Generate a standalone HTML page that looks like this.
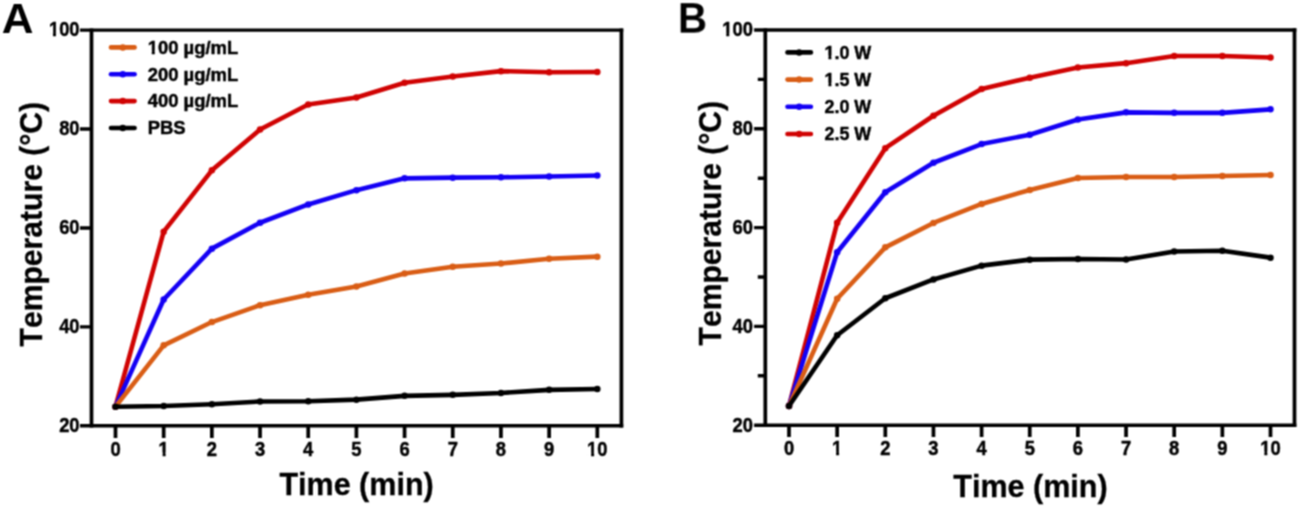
<!DOCTYPE html>
<html><head><meta charset="utf-8"><style>
html,body{margin:0;padding:0;background:#fff;}
body{width:1300px;height:507px;overflow:hidden;}
svg{display:block;will-change:transform;}
text{font-family:"Liberation Sans",sans-serif;font-weight:bold;fill:#000;font-kerning:none;}
.t{font-size:19.4px;stroke:#000;stroke-width:0.45px;}
.lg{font-size:18.1px;stroke:#000;stroke-width:0.45px;}
.ti{font-size:31.5px;stroke:#000;stroke-width:0.3px;}
.L{font-size:42px;}
</style></head><body>
<svg width="1300" height="507" viewBox="0 0 1300 507">
<defs><filter id="soft" x="0" y="0" width="1300" height="507" filterUnits="userSpaceOnUse" color-interpolation-filters="sRGB"><feConvolveMatrix order="3" kernelMatrix="0.0625 0.125 0.0625 0.125 0.25 0.125 0.0625 0.125 0.0625" edgeMode="duplicate"/></filter></defs>
<g filter="url(#soft)">
<rect width="1300" height="507" fill="#fff"/>
<path d="M80.0,30.15 H623.25 M80.0,425.8 H623.25" stroke="#000" stroke-width="3.4" fill="none"/>
<path d="M91.5,28.45 V427.5 M621.4,28.45 V427.5" stroke="#000" stroke-width="3.7" fill="none"/>
<path d="M80.0,326.89 H91.5 M80.0,227.97 H91.5 M80.0,129.06 H91.5 " stroke="#000" stroke-width="3.4" fill="none"/>
<path d="M115.50,425.8 V438.1 M163.68,425.8 V438.1 M211.86,425.8 V438.1 M260.04,425.8 V438.1 M308.22,425.8 V438.1 M356.40,425.8 V438.1 M404.58,425.8 V438.1 M452.76,425.8 V438.1 M500.94,425.8 V438.1 M549.12,425.8 V438.1 M597.30,425.8 V438.1 " stroke="#000" stroke-width="3.7" fill="none"/>
<g transform="translate(79.60,432.10) scale(0.948,1.0)"><text x="-21.58" y="0" class="t">20</text></g>
<g transform="translate(79.60,333.19) scale(0.948,1.0)"><text x="-21.58" y="0" class="t">40</text></g>
<g transform="translate(79.60,234.28) scale(0.948,1.0)"><text x="-21.58" y="0" class="t">60</text></g>
<g transform="translate(79.60,135.36) scale(0.948,1.0)"><text x="-21.58" y="0" class="t">80</text></g>
<g transform="translate(79.60,36.45) scale(0.948,1.0)"><text x="-32.37" y="0" class="t">100</text><rect x="-32.18" y="-3.28" width="4.09" height="4.58" fill="#fff"/><rect x="-24.93" y="-3.28" width="4.04" height="4.58" fill="#fff"/></g>
<g transform="translate(115.50,455.80) scale(0.948,1.0)"><text x="-5.39" y="0" class="t">0</text></g>
<g transform="translate(163.68,455.80) scale(0.948,1.0)"><text x="-5.39" y="0" class="t">1</text><rect x="-5.21" y="-3.28" width="4.09" height="4.58" fill="#fff"/><rect x="2.05" y="-3.28" width="4.04" height="4.58" fill="#fff"/></g>
<g transform="translate(211.86,455.80) scale(0.948,1.0)"><text x="-5.39" y="0" class="t">2</text></g>
<g transform="translate(260.04,455.80) scale(0.948,1.0)"><text x="-5.39" y="0" class="t">3</text></g>
<g transform="translate(308.22,455.80) scale(0.948,1.0)"><text x="-5.39" y="0" class="t">4</text></g>
<g transform="translate(356.40,455.80) scale(0.948,1.0)"><text x="-5.39" y="0" class="t">5</text></g>
<g transform="translate(404.58,455.80) scale(0.948,1.0)"><text x="-5.39" y="0" class="t">6</text></g>
<g transform="translate(452.76,455.80) scale(0.948,1.0)"><text x="-5.39" y="0" class="t">7</text></g>
<g transform="translate(500.94,455.80) scale(0.948,1.0)"><text x="-5.39" y="0" class="t">8</text></g>
<g transform="translate(549.12,455.80) scale(0.948,1.0)"><text x="-5.39" y="0" class="t">9</text></g>
<g transform="translate(597.30,455.80) scale(0.948,1.0)"><text x="-10.79" y="0" class="t">10</text><rect x="-10.60" y="-3.28" width="4.09" height="4.58" fill="#fff"/><rect x="-3.35" y="-3.28" width="4.04" height="4.58" fill="#fff"/></g>
<g transform="translate(356.55,495.30) scale(0.969,1.015)"><text x="-79.63" y="0" class="ti">Time (min)</text></g>
<g transform="translate(42.30,224.10) rotate(-90) scale(0.9565,1.015)"><text x="-127.95" y="0" class="ti">Temperature (°C)</text></g>
<text transform="translate(1.8,33.45) scale(1,0.957)" class="L" style="font-size:44px">A</text>
<polyline points="115.50,406.65 163.68,231.65 211.86,170.35 260.04,129.55 308.22,104.55 356.40,97.50 404.58,82.80 452.76,76.45 500.94,71.15 549.12,72.30 597.30,71.95" stroke="#D00303" stroke-width="4.6" fill="none" stroke-linejoin="round" stroke-linecap="round"/>
<circle cx="115.50" cy="406.65" r="3.25" fill="#D00303"/>
<circle cx="163.68" cy="231.65" r="3.25" fill="#D00303"/>
<circle cx="211.86" cy="170.35" r="3.25" fill="#D00303"/>
<circle cx="260.04" cy="129.55" r="3.25" fill="#D00303"/>
<circle cx="308.22" cy="104.55" r="3.25" fill="#D00303"/>
<circle cx="356.40" cy="97.50" r="3.25" fill="#D00303"/>
<circle cx="404.58" cy="82.80" r="3.25" fill="#D00303"/>
<circle cx="452.76" cy="76.45" r="3.25" fill="#D00303"/>
<circle cx="500.94" cy="71.15" r="3.25" fill="#D00303"/>
<circle cx="549.12" cy="72.30" r="3.25" fill="#D00303"/>
<circle cx="597.30" cy="71.95" r="3.25" fill="#D00303"/>
<polyline points="115.50,406.65 163.68,299.50 211.86,248.65 260.04,222.75 308.22,204.45 356.40,190.15 404.58,178.35 452.76,177.65 500.94,177.30 549.12,176.55 597.30,175.45" stroke="#1400F4" stroke-width="4.6" fill="none" stroke-linejoin="round" stroke-linecap="round"/>
<circle cx="115.50" cy="406.65" r="3.25" fill="#1400F4"/>
<circle cx="163.68" cy="299.50" r="3.25" fill="#1400F4"/>
<circle cx="211.86" cy="248.65" r="3.25" fill="#1400F4"/>
<circle cx="260.04" cy="222.75" r="3.25" fill="#1400F4"/>
<circle cx="308.22" cy="204.45" r="3.25" fill="#1400F4"/>
<circle cx="356.40" cy="190.15" r="3.25" fill="#1400F4"/>
<circle cx="404.58" cy="178.35" r="3.25" fill="#1400F4"/>
<circle cx="452.76" cy="177.65" r="3.25" fill="#1400F4"/>
<circle cx="500.94" cy="177.30" r="3.25" fill="#1400F4"/>
<circle cx="549.12" cy="176.55" r="3.25" fill="#1400F4"/>
<circle cx="597.30" cy="175.45" r="3.25" fill="#1400F4"/>
<polyline points="115.50,406.65 163.68,345.35 211.86,322.05 260.04,305.15 308.22,294.65 356.40,286.55 404.58,273.55 452.76,266.75 500.94,263.55 549.12,258.75 597.30,256.65" stroke="#D95D15" stroke-width="4.6" fill="none" stroke-linejoin="round" stroke-linecap="round"/>
<circle cx="115.50" cy="406.65" r="3.25" fill="#D95D15"/>
<circle cx="163.68" cy="345.35" r="3.25" fill="#D95D15"/>
<circle cx="211.86" cy="322.05" r="3.25" fill="#D95D15"/>
<circle cx="260.04" cy="305.15" r="3.25" fill="#D95D15"/>
<circle cx="308.22" cy="294.65" r="3.25" fill="#D95D15"/>
<circle cx="356.40" cy="286.55" r="3.25" fill="#D95D15"/>
<circle cx="404.58" cy="273.55" r="3.25" fill="#D95D15"/>
<circle cx="452.76" cy="266.75" r="3.25" fill="#D95D15"/>
<circle cx="500.94" cy="263.55" r="3.25" fill="#D95D15"/>
<circle cx="549.12" cy="258.75" r="3.25" fill="#D95D15"/>
<circle cx="597.30" cy="256.65" r="3.25" fill="#D95D15"/>
<polyline points="115.50,406.75 163.68,406.05 211.86,404.25 260.04,401.45 308.22,401.25 356.40,399.65 404.58,395.85 452.76,394.85 500.94,393.00 549.12,389.85 597.30,389.05" stroke="#000000" stroke-width="4.6" fill="none" stroke-linejoin="round" stroke-linecap="round"/>
<circle cx="115.50" cy="406.75" r="3.25" fill="#000000"/>
<circle cx="163.68" cy="406.05" r="3.25" fill="#000000"/>
<circle cx="211.86" cy="404.25" r="3.25" fill="#000000"/>
<circle cx="260.04" cy="401.45" r="3.25" fill="#000000"/>
<circle cx="308.22" cy="401.25" r="3.25" fill="#000000"/>
<circle cx="356.40" cy="399.65" r="3.25" fill="#000000"/>
<circle cx="404.58" cy="395.85" r="3.25" fill="#000000"/>
<circle cx="452.76" cy="394.85" r="3.25" fill="#000000"/>
<circle cx="500.94" cy="393.00" r="3.25" fill="#000000"/>
<circle cx="549.12" cy="389.85" r="3.25" fill="#000000"/>
<circle cx="597.30" cy="389.05" r="3.25" fill="#000000"/>
<line x1="111.0" y1="47.40" x2="134.6" y2="47.40" stroke="#D95D15" stroke-width="4.6" stroke-linecap="round"/>
<circle cx="122.80" cy="47.40" r="3.25" fill="#D95D15"/>
<g transform="translate(147.70,53.70) scale(1.02,1.0)"><text x="0.00" y="0" class="lg">100 µg/mL</text><rect x="0.18" y="-3.15" width="3.80" height="4.45" fill="#fff"/><rect x="6.96" y="-3.15" width="3.76" height="4.45" fill="#fff"/></g>
<line x1="111.0" y1="74.25" x2="134.6" y2="74.25" stroke="#1400F4" stroke-width="4.6" stroke-linecap="round"/>
<circle cx="122.80" cy="74.25" r="3.25" fill="#1400F4"/>
<g transform="translate(147.70,80.55) scale(1.02,1.0)"><text x="0.00" y="0" class="lg">200 µg/mL</text></g>
<line x1="111.0" y1="101.10" x2="134.6" y2="101.10" stroke="#D00303" stroke-width="4.6" stroke-linecap="round"/>
<circle cx="122.80" cy="101.10" r="3.25" fill="#D00303"/>
<g transform="translate(147.70,107.40) scale(1.02,1.0)"><text x="0.00" y="0" class="lg">400 µg/mL</text></g>
<line x1="111.0" y1="127.95" x2="134.6" y2="127.95" stroke="#000000" stroke-width="4.6" stroke-linecap="round"/>
<circle cx="122.80" cy="127.95" r="3.25" fill="#000000"/>
<g transform="translate(147.70,134.25) scale(1.02,1.0)"><text x="0.00" y="0" class="lg">PBS</text></g>
<path d="M754.1,30.0 H1296.35 M754.1,425.2 H1296.35" stroke="#000" stroke-width="3.4" fill="none"/>
<path d="M765.3,28.3 V426.9 M1294.5,28.3 V426.9" stroke="#000" stroke-width="3.7" fill="none"/>
<path d="M754.1,326.40 H765.3 M754.1,227.60 H765.3 M754.1,128.80 H765.3 M757.8,375.80 H765.3 M757.8,277.00 H765.3 M757.8,178.20 H765.3 M757.8,79.40 H765.3 " stroke="#000" stroke-width="3.4" fill="none"/>
<path d="M789.00,425.2 V437.0 M837.15,425.2 V437.0 M885.30,425.2 V437.0 M933.45,425.2 V437.0 M981.60,425.2 V437.0 M1029.75,425.2 V437.0 M1077.90,425.2 V437.0 M1126.05,425.2 V437.0 M1174.20,425.2 V437.0 M1222.35,425.2 V437.0 M1270.50,425.2 V437.0 " stroke="#000" stroke-width="3.7" fill="none"/>
<g transform="translate(752.90,431.60) scale(0.948,1.0)"><text x="-21.58" y="0" class="t">20</text></g>
<g transform="translate(752.90,332.80) scale(0.948,1.0)"><text x="-21.58" y="0" class="t">40</text></g>
<g transform="translate(752.90,234.00) scale(0.948,1.0)"><text x="-21.58" y="0" class="t">60</text></g>
<g transform="translate(752.90,135.20) scale(0.948,1.0)"><text x="-21.58" y="0" class="t">80</text></g>
<g transform="translate(752.90,36.40) scale(0.948,1.0)"><text x="-32.37" y="0" class="t">100</text><rect x="-32.18" y="-3.28" width="4.09" height="4.58" fill="#fff"/><rect x="-24.93" y="-3.28" width="4.04" height="4.58" fill="#fff"/></g>
<g transform="translate(789.00,454.70) scale(0.948,1.0)"><text x="-5.39" y="0" class="t">0</text></g>
<g transform="translate(837.15,454.70) scale(0.948,1.0)"><text x="-5.39" y="0" class="t">1</text><rect x="-5.21" y="-3.28" width="4.09" height="4.58" fill="#fff"/><rect x="2.05" y="-3.28" width="4.04" height="4.58" fill="#fff"/></g>
<g transform="translate(885.30,454.70) scale(0.948,1.0)"><text x="-5.39" y="0" class="t">2</text></g>
<g transform="translate(933.45,454.70) scale(0.948,1.0)"><text x="-5.39" y="0" class="t">3</text></g>
<g transform="translate(981.60,454.70) scale(0.948,1.0)"><text x="-5.39" y="0" class="t">4</text></g>
<g transform="translate(1029.75,454.70) scale(0.948,1.0)"><text x="-5.39" y="0" class="t">5</text></g>
<g transform="translate(1077.90,454.70) scale(0.948,1.0)"><text x="-5.39" y="0" class="t">6</text></g>
<g transform="translate(1126.05,454.70) scale(0.948,1.0)"><text x="-5.39" y="0" class="t">7</text></g>
<g transform="translate(1174.20,454.70) scale(0.948,1.0)"><text x="-5.39" y="0" class="t">8</text></g>
<g transform="translate(1222.35,454.70) scale(0.948,1.0)"><text x="-5.39" y="0" class="t">9</text></g>
<g transform="translate(1270.50,454.70) scale(0.948,1.0)"><text x="-10.79" y="0" class="t">10</text><rect x="-10.60" y="-3.28" width="4.09" height="4.58" fill="#fff"/><rect x="-3.35" y="-3.28" width="4.04" height="4.58" fill="#fff"/></g>
<g transform="translate(1030.45,496.50) scale(0.969,1.015)"><text x="-79.63" y="0" class="ti">Time (min)</text></g>
<g transform="translate(721.40,223.10) rotate(-90) scale(0.9565,1.015)"><text x="-127.95" y="0" class="ti">Temperature (°C)</text></g>
<text transform="translate(677.9,32.6) scale(0.925,0.95)" class="L" style="font-size:43.5px">B</text>
<polyline points="789.00,405.95 837.15,222.85 885.30,148.15 933.45,115.75 981.60,89.05 1029.75,77.65 1077.90,67.55 1126.05,63.15 1174.20,55.95 1222.35,55.95 1270.50,57.55" stroke="#D00303" stroke-width="4.6" fill="none" stroke-linejoin="round" stroke-linecap="round"/>
<circle cx="789.00" cy="405.95" r="3.25" fill="#D00303"/>
<circle cx="837.15" cy="222.85" r="3.25" fill="#D00303"/>
<circle cx="885.30" cy="148.15" r="3.25" fill="#D00303"/>
<circle cx="933.45" cy="115.75" r="3.25" fill="#D00303"/>
<circle cx="981.60" cy="89.05" r="3.25" fill="#D00303"/>
<circle cx="1029.75" cy="77.65" r="3.25" fill="#D00303"/>
<circle cx="1077.90" cy="67.55" r="3.25" fill="#D00303"/>
<circle cx="1126.05" cy="63.15" r="3.25" fill="#D00303"/>
<circle cx="1174.20" cy="55.95" r="3.25" fill="#D00303"/>
<circle cx="1222.35" cy="55.95" r="3.25" fill="#D00303"/>
<circle cx="1270.50" cy="57.55" r="3.25" fill="#D00303"/>
<polyline points="789.00,405.95 837.15,252.25 885.30,192.25 933.45,162.75 981.60,144.05 1029.75,134.75 1077.90,119.45 1126.05,112.35 1174.20,112.85 1222.35,112.85 1270.50,109.35" stroke="#1400F4" stroke-width="4.6" fill="none" stroke-linejoin="round" stroke-linecap="round"/>
<circle cx="789.00" cy="405.95" r="3.25" fill="#1400F4"/>
<circle cx="837.15" cy="252.25" r="3.25" fill="#1400F4"/>
<circle cx="885.30" cy="192.25" r="3.25" fill="#1400F4"/>
<circle cx="933.45" cy="162.75" r="3.25" fill="#1400F4"/>
<circle cx="981.60" cy="144.05" r="3.25" fill="#1400F4"/>
<circle cx="1029.75" cy="134.75" r="3.25" fill="#1400F4"/>
<circle cx="1077.90" cy="119.45" r="3.25" fill="#1400F4"/>
<circle cx="1126.05" cy="112.35" r="3.25" fill="#1400F4"/>
<circle cx="1174.20" cy="112.85" r="3.25" fill="#1400F4"/>
<circle cx="1222.35" cy="112.85" r="3.25" fill="#1400F4"/>
<circle cx="1270.50" cy="109.35" r="3.25" fill="#1400F4"/>
<polyline points="789.00,405.95 837.15,298.75 885.30,247.35 933.45,222.95 981.60,203.95 1029.75,189.95 1077.90,177.95 1126.05,176.95 1174.20,176.95 1222.35,176.05 1270.50,175.05" stroke="#D95D15" stroke-width="4.6" fill="none" stroke-linejoin="round" stroke-linecap="round"/>
<circle cx="789.00" cy="405.95" r="3.25" fill="#D95D15"/>
<circle cx="837.15" cy="298.75" r="3.25" fill="#D95D15"/>
<circle cx="885.30" cy="247.35" r="3.25" fill="#D95D15"/>
<circle cx="933.45" cy="222.95" r="3.25" fill="#D95D15"/>
<circle cx="981.60" cy="203.95" r="3.25" fill="#D95D15"/>
<circle cx="1029.75" cy="189.95" r="3.25" fill="#D95D15"/>
<circle cx="1077.90" cy="177.95" r="3.25" fill="#D95D15"/>
<circle cx="1126.05" cy="176.95" r="3.25" fill="#D95D15"/>
<circle cx="1174.20" cy="176.95" r="3.25" fill="#D95D15"/>
<circle cx="1222.35" cy="176.05" r="3.25" fill="#D95D15"/>
<circle cx="1270.50" cy="175.05" r="3.25" fill="#D95D15"/>
<polyline points="789.00,405.95 837.15,335.25 885.30,298.25 933.45,279.45 981.60,265.65 1029.75,259.65 1077.90,259.05 1126.05,259.55 1174.20,251.55 1222.35,250.75 1270.50,257.65" stroke="#000000" stroke-width="4.6" fill="none" stroke-linejoin="round" stroke-linecap="round"/>
<circle cx="789.00" cy="405.95" r="3.25" fill="#000000"/>
<circle cx="837.15" cy="335.25" r="3.25" fill="#000000"/>
<circle cx="885.30" cy="298.25" r="3.25" fill="#000000"/>
<circle cx="933.45" cy="279.45" r="3.25" fill="#000000"/>
<circle cx="981.60" cy="265.65" r="3.25" fill="#000000"/>
<circle cx="1029.75" cy="259.65" r="3.25" fill="#000000"/>
<circle cx="1077.90" cy="259.05" r="3.25" fill="#000000"/>
<circle cx="1126.05" cy="259.55" r="3.25" fill="#000000"/>
<circle cx="1174.20" cy="251.55" r="3.25" fill="#000000"/>
<circle cx="1222.35" cy="250.75" r="3.25" fill="#000000"/>
<circle cx="1270.50" cy="257.65" r="3.25" fill="#000000"/>
<line x1="787.5" y1="52.40" x2="810.9" y2="52.40" stroke="#000000" stroke-width="4.6" stroke-linecap="round"/>
<circle cx="799.20" cy="52.40" r="3.25" fill="#000000"/>
<g transform="translate(824.50,58.75) scale(0.99,1.0)"><text x="0.00" y="0" class="lg">1.0 W</text><rect x="0.18" y="-3.15" width="3.80" height="4.45" fill="#fff"/><rect x="6.96" y="-3.15" width="3.76" height="4.45" fill="#fff"/></g>
<line x1="787.5" y1="79.60" x2="810.9" y2="79.60" stroke="#D95D15" stroke-width="4.6" stroke-linecap="round"/>
<circle cx="799.20" cy="79.60" r="3.25" fill="#D95D15"/>
<g transform="translate(824.50,85.95) scale(0.99,1.0)"><text x="0.00" y="0" class="lg">1.5 W</text><rect x="0.18" y="-3.15" width="3.80" height="4.45" fill="#fff"/><rect x="6.96" y="-3.15" width="3.76" height="4.45" fill="#fff"/></g>
<line x1="787.5" y1="106.80" x2="810.9" y2="106.80" stroke="#1400F4" stroke-width="4.6" stroke-linecap="round"/>
<circle cx="799.20" cy="106.80" r="3.25" fill="#1400F4"/>
<g transform="translate(824.50,113.15) scale(0.99,1.0)"><text x="0.00" y="0" class="lg">2.0 W</text></g>
<line x1="787.5" y1="134.00" x2="810.9" y2="134.00" stroke="#D00303" stroke-width="4.6" stroke-linecap="round"/>
<circle cx="799.20" cy="134.00" r="3.25" fill="#D00303"/>
<g transform="translate(824.50,140.35) scale(0.99,1.0)"><text x="0.00" y="0" class="lg">2.5 W</text></g>
</g>
</svg>
</body></html>
